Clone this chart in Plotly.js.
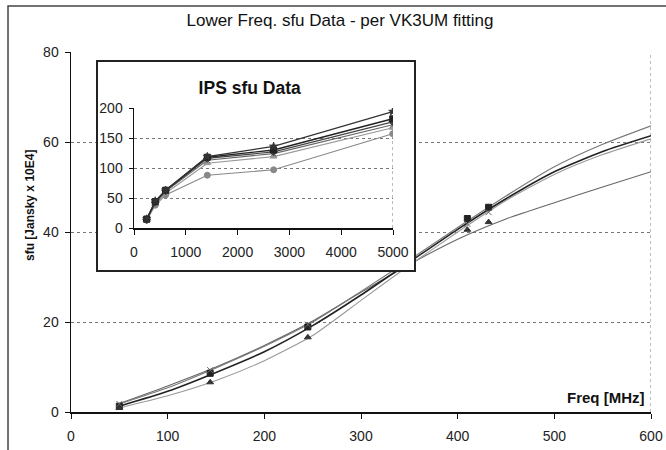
<!DOCTYPE html>
<html>
<head>
<meta charset="utf-8">
<script src="https://cdn.plot.ly/plotly-3.0.1.min.js"></script>
<style>
  html, body { margin: 0; padding: 0; background: #fff; }
  #main { position: absolute; left: 0; top: 0; width: 666px; height: 450px; }
  #inset { position: absolute; left: 96px; top: 60px; width: 320px; height: 212px;
           border: 2px solid #222; box-sizing: border-box; background: #fff; }
</style>
</head>
<body>
<div id="main"></div>
<div id="inset"></div>
<script>
// ---- Main chart data (fitted curves, per VK3UM) ----
const fitFreq = [50, 100, 150, 200, 250, 300, 350, 400, 450, 500, 550, 600];
const fitA = [1.8, 5.4, 9.8, 14.6, 20.0, 26.8, 33.8, 41.0, 48.0, 54.5, 59.5, 63.6];
const fitB = [1.3, 4.6, 8.8, 13.4, 19.2, 26.0, 33.3, 40.6, 47.4, 53.4, 57.9, 61.4];
const fitC = [0.9, 3.6, 7.0, 11.4, 17.0, 24.8, 32.6, 40.0, 47.0, 52.8, 57.2, 60.7];
const fitD = [1.9, 5.8, 10.0, 14.8, 20.2, 26.6, 32.8, 38.4, 42.9, 46.5, 50.0, 53.4];

// measured points shown on the main chart
const obsFreq = [50, 144, 245, 410, 432];
const obsSq  = [1.3, 8.6, 18.9, 43.0, 45.5];
const obsTri = [0.9, 6.6, 16.6, 40.5, 42.2];
const obsX   = [1.8, 9.3, 19.4, 41.8, 44.4];

const mainXTicks = [0, 100, 200, 300, 400, 500, 600];
const mainYTicks = [0, 20, 40, 60, 80];

// ---- Inset: IPS sfu data ----
const ipsFreq = [245, 410, 610, 1415, 2695, 4995];
const ips1 = [15, 45, 63, 119, 136, 194];
const ips2 = [15, 44, 63, 118, 130, 182];
const ips3 = [14, 43, 62, 116, 127, 177];
const ips4 = [14, 42, 61, 113, 124, 172];
const ips5 = [13, 40, 58, 108, 119, 167];
const ips6 = [13, 38, 55, 88, 97, 157];

const insetXTicks = [0, 1000, 2000, 3000, 4000, 5000];
const insetYTicks = [0, 50, 100, 150, 200];

const FONT = '"Liberation Sans Narrow", "Liberation Sans", Arial, sans-serif';
const BFONT = '"Liberation Sans", Arial, sans-serif';

function curve(y, color, w) {
  return { x: fitFreq, y: y, mode: 'lines', type: 'scatter',
           line: { color: color, width: w, shape: 'spline', smoothing: 0.6 },
           hoverinfo: 'skip', showlegend: false };
}
function pts(y, sym, color) {
  return { x: obsFreq, y: y, mode: 'markers', type: 'scatter',
           marker: { symbol: sym, size: 6, color: color, line: { color: color, width: 1 } },
           showlegend: false };
}

const mainTraces = [
  curve(fitD, '#666', 1.1),
  curve(fitC, '#999', 1.1),
  curve(fitB, '#222', 1.6),
  curve(fitA, '#777', 1.1),
  pts(obsSq, 'square', '#222'),
  pts(obsTri, 'triangle-up', '#333'),
  pts(obsX, 'x-thin', '#666')
];

const mainLayout = {
  width: 666, height: 450,
  margin: { l: 71, r: 15, t: 52, b: 38 },
  paper_bgcolor: '#fff', plot_bgcolor: '#fff',
  showlegend: false,
  title: { text: 'Lower Freq. sfu Data - per VK3UM fitting',
           font: { family: BFONT, size: 17, color: '#111' },
           xref: 'paper', x: 0.4638, xanchor: 'center',
           yref: 'container', y: 0.955, yanchor: 'middle' },
  xaxis: { range: [0, 600], tickvals: mainXTicks, ticktext: mainXTicks.map(String),
           showgrid: false, zeroline: false, showline: true, linecolor: '#111', linewidth: 1.5,
           ticks: 'outside', ticklen: 5, tickcolor: '#111', ticklabelstandoff: 6,
           tickfont: { family: FONT, size: 14, color: '#222' } },
  yaxis: { range: [0, 80], tickvals: mainYTicks, ticktext: mainYTicks.map(String),
           showgrid: true, gridcolor: '#777', griddash: 'dot', gridwidth: 1,
           zeroline: false, showline: true, linecolor: '#111', linewidth: 1.5,
           ticks: 'outside', ticklen: 5, tickcolor: '#111', ticklabelstandoff: 3,
           tickfont: { family: FONT, size: 14, color: '#222' } },
  shapes: [
    { type: 'line', xref: 'x', yref: 'y', x0: 600, x1: 600, y0: 0, y1: 80,
      line: { color: '#777', width: 1, dash: 'dot' }, layer: 'below' },
    { type: 'rect', xref: 'paper', yref: 'paper',
      x0: -0.1086, x1: 1.06, y0: -0.12, y1: 1.1278,
      line: { color: '#444', width: 1.5 }, fillcolor: 'rgba(0,0,0,0)', layer: 'below' }
  ],
  annotations: [
    { text: '<b>Freq [MHz]</b>', xref: 'paper', yref: 'paper', x: 1, y: 0.039,
      xanchor: 'right', yanchor: 'middle', xshift: -4, showarrow: false,
      font: { family: BFONT, size: 15, color: '#111' } },
    { text: '<b>sfu [Jansky x 10E4]</b>', xref: 'paper', yref: 'paper', x: -0.0707, y: 0.575,
      xanchor: 'center', yanchor: 'middle', textangle: -90, showarrow: false,
      font: { family: BFONT, size: 12, color: '#111' } }
  ]
};

Plotly.newPlot('main', mainTraces, mainLayout, { staticPlot: true });

function ips(y, sym, color, w) {
  return { x: ipsFreq, y: y, mode: 'lines+markers', type: 'scatter',
           line: { color: color, width: w },
           marker: { symbol: sym, size: 6, color: color, line: { color: color, width: 1 } },
           showlegend: false };
}

const insetTraces = [
  ips(ips6, 'circle', '#888', 1.1),
  ips(ips5, 'triangle-up', '#999', 1.1),
  ips(ips4, 'x-thin', '#666', 1.1),
  ips(ips3, 'diamond', '#444', 1.2),
  ips(ips2, 'square', '#222', 1.4),
  ips(ips1, 'star', '#333', 1.2)
];

const insetLayout = {
  width: 316, height: 208,
  margin: { l: 36, r: 21, t: 46, b: 42 },
  paper_bgcolor: '#fff', plot_bgcolor: '#fff',
  showlegend: false,
  title: { text: '<b>IPS sfu Data</b>', font: { family: BFONT, size: 17.5, color: '#111' },
           xref: 'container', x: 0.48, xanchor: 'center',
           yref: 'container', y: 0.875, yanchor: 'middle' },
  xaxis: { range: [0, 5000], tickvals: insetXTicks, ticktext: insetXTicks.map(String),
           showgrid: false, zeroline: false, showline: true, linecolor: '#111', linewidth: 1.5,
           ticks: 'outside', ticklen: 5, tickcolor: '#111', ticklabelstandoff: 6,
           tickfont: { family: FONT, size: 14, color: '#222' } },
  yaxis: { range: [0, 200], tickvals: insetYTicks, ticktext: insetYTicks.map(String),
           showgrid: true, gridcolor: '#777', griddash: 'dot', gridwidth: 1,
           zeroline: false, showline: true, linecolor: '#111', linewidth: 1.5,
           ticks: 'outside', ticklen: 4, tickcolor: '#111', ticklabelstandoff: 3,
           tickfont: { family: FONT, size: 14, color: '#222' } },
  shapes: [
    { type: 'line', xref: 'x', yref: 'y', x0: 5000, x1: 5000, y0: 0, y1: 200,
      line: { color: '#777', width: 1, dash: 'dot' }, layer: 'below' }
  ]
};

Plotly.newPlot('inset', insetTraces, insetLayout, { staticPlot: true });
</script>
</body>
</html>
